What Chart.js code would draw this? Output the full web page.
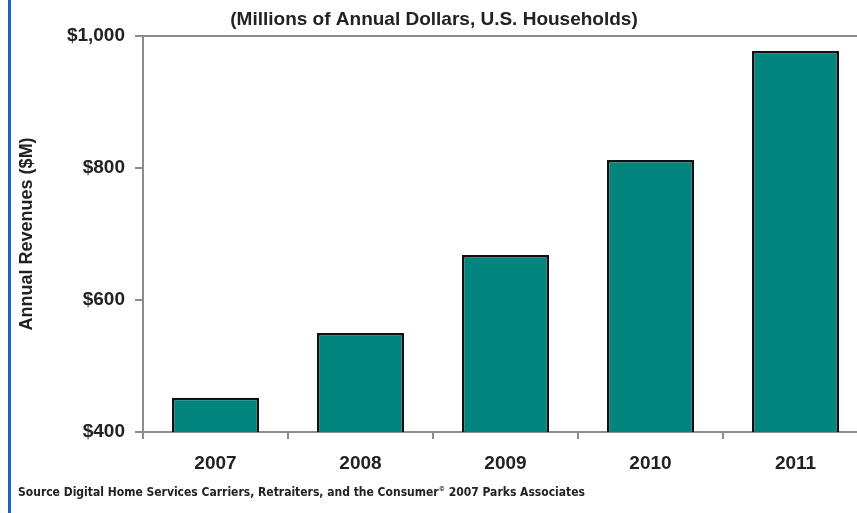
<!DOCTYPE html>
<html>
<head>
<meta charset="utf-8">
<script src="https://cdn.jsdelivr.net/npm/chart.js@4.4.0/dist/chart.umd.min.js"></script>
<style>
  html, body { margin: 0; padding: 0; background: #fff; overflow: hidden; }
  #wrap { position: relative; width: 857px; height: 513px; overflow: hidden; }
  #leftBar { position: absolute; left: 8px; top: 0; width: 3px; height: 513px; background: #1f63b8; }
  #chart { position: absolute; left: 0; top: 0; }
  #source {
    position: absolute; left: 18px; top: 485px;
    font-family: "DejaVu Sans Condensed", "DejaVu Sans", sans-serif;
    font-weight: bold; font-size: 12px; color: #222; white-space: nowrap;
  }
  #source sup { font-size: 7px; }
</style>
</head>
<body>
<div id="wrap">
  <div id="leftBar"></div>
  <canvas id="chart" width="880" height="513"></canvas>
  <div id="source">Source Digital Home Services Carriers, Retraiters, and the Consumer<sup>©</sup> 2007 Parks Associates</div>
</div>
<script>
  // Chart data
  const years = ['2007', '2008', '2009', '2010', '2011'];
  const revenues = [452, 550, 668, 812, 977];
  const yTicks = [400, 600, 800, 1000];

  const axisGray = '#8c8c8c';
  const labelFont = { family: '"Liberation Sans", Arial, sans-serif', weight: 'bold' };

  const ctx = document.getElementById('chart').getContext('2d');
  const revenueChart = new Chart(ctx, {
    type: 'bar',
    data: {
      labels: years,
      datasets: [{
        data: revenues,
        backgroundColor: '#02847f',
        borderColor: '#111',
        borderWidth: 2.5,
        borderSkipped: 'bottom',
        categoryPercentage: 1,
        barPercentage: 0.6
      }]
    },
    options: {
      responsive: false,
      animation: false,
      layout: { padding: { left: 0, right: 12, top: 0, bottom: 0 } },
      plugins: {
        legend: { display: false },
        tooltip: { enabled: false },
        title: {
          display: true,
          text: '(Millions of Annual Dollars, U.S. Households)',
          color: '#222',
          font: { ...labelFont, size: 19 },
          padding: { top: 8, bottom: 5 }
        }
      },
      scales: {
        y: {
          min: 400,
          max: 1000,
          afterBuildTicks: function (scale) {
            scale.ticks = yTicks.map(v => ({ value: v }));
          },
          afterFit: function (scale) { scale.width = 143; },
          border: { display: true, color: axisGray, width: 2 },
          grid: {
            color: c => (c.tick && c.tick.value === 1000 ? axisGray : 'transparent'),
            tickColor: axisGray,
            lineWidth: 2,
            tickLength: 8
          },
          ticks: {
            color: '#222',
            font: { ...labelFont, size: 19 },
            padding: 10,
            callback: v => '$' + v.toLocaleString('en-US')
          },
          title: {
            display: true,
            text: 'Annual Revenues ($M)',
            color: '#222',
            font: { ...labelFont, size: 18 },
            padding: { top: 16, bottom: 0 }
          }
        },
        x: {
          afterFit: function (scale) { scale.height = 81; },
          border: { display: true, color: axisGray, width: 2 },
          grid: {
            offset: true,
            color: 'transparent',
            tickColor: axisGray,
            lineWidth: 2,
            tickLength: 7
          },
          ticks: {
            color: '#222',
            font: { ...labelFont, size: 19 },
            padding: 13
          }
        }
      }
    }
  });
</script>
</body>
</html>
